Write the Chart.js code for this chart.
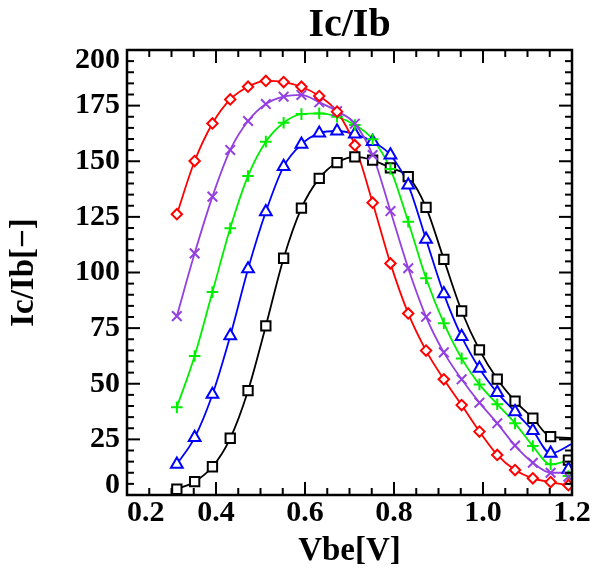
<!DOCTYPE html>
<html><head><meta charset="utf-8">
<script src="https://cdn.jsdelivr.net/npm/chart.js@4/dist/chart.umd.min.js"></script>
<style>html,body{margin:0;padding:0;background:#fff}canvas{display:block}</style>
</head><body>
<canvas id="c" width="596" height="571"></canvas>
<script>
// Vbe sample points (markers)
const vbe = [0.312,0.352,0.392,0.432,0.472,0.512,0.552,0.592,0.632,0.672,0.712,0.752,0.792,0.832,0.872,0.912,0.952,0.992,1.032,1.072,1.112,1.152,1.192];
// Ic/Ib for each curve
const redVals    = [126.2,150.1,167.0,177.8,183.5,186.1,185.6,183.5,179.3,172.3,157.2,131.4,104.1,81.6,64.9,52.0,40.4,28.5,18.0,11.2,7.5,5.8,4.4];
const purpleVals = [80.4,108.6,134.1,155.1,168.1,175.7,179.0,179.8,176.5,172.5,166.9,152.8,127.6,101.9,80.1,64.1,52.0,41.5,32.2,22.2,14.5,10.0,8.2];
const greenVals  = [39.4,62.5,91.2,119.9,143.4,158.8,167.3,171.2,171.5,170.0,166.3,159.9,146.5,122.8,97.4,77.2,61.4,49.7,40.8,32.2,22.0,13.8,8.5];
const blueVals   = [13.8,25.8,45.2,71.5,101.6,127.3,147.6,157.6,162.6,163.6,162.2,158.8,152.8,139.3,114.9,90.4,71.2,56.9,46.0,37.4,28.9,18.7,11.5];
const blackVals  = [2.6,6.0,12.7,25.5,46.9,76.0,106.4,128.9,142.3,149.4,152.0,150.5,147.0,143.1,129.3,105.9,82.7,65.2,52.1,42.2,34.5,26.2,15.7];
// value where each drawn curve meets the right edge (Vbe = 1.2)
const curveEndX = 1.2;
const curveEnd = {red: 4.0, purple: 10.0, green: 16.0, blue: 23.0, black: 25.6};
// axis ticks
const xTickValues = [0.2,0.4,0.6,0.8,1.0,1.2];
const yTickValues = [0,25,50,75,100,125,150,175,200];

const FONT = "'Liberation Serif','Times New Roman','DejaVu Serif',serif";
const series = [
  {key:'red',    vals: redVals,    color:'#ff0000', style:'rectRot',   r:5.2},
  {key:'purple', vals: purpleVals, color:'#9440e0', style:'crossRot',  r:6.8},
  {key:'green',  vals: greenVals,  color:'#00ee00', style:'cross',     r:5.8},
  {key:'blue',   vals: blueVals,   color:'#0000ff', style:'triangle',  r:6.8},
  {key:'black',  vals: blackVals,  color:'#000000', style:'rect',      r:6.6}
];

const markerSets = series.map(s => ({
  label: s.key + ' markers',
  data: vbe.map((x,i) => ({x, y: s.vals[i]})),
  showLine: false,
  pointStyle: s.style,
  pointRadius: s.r,
  pointBorderWidth: 2,
  pointBorderColor: s.color,
  pointBackgroundColor: '#ffffff',
  borderColor: s.color,
  backgroundColor: '#ffffff'
}));
const lineSets = series.map(s => ({
  label: s.key + ' curve',
  data: vbe.slice(0,22).map((x,i) => ({x, y: s.vals[i]})).concat([{x: curveEndX, y: curveEnd[s.key]}]),
  showLine: true,
  pointRadius: 0,
  borderColor: s.color,
  borderWidth: 1.8,
  cubicInterpolationMode: 'monotone',
  fill: false
}));

const framePlugin = {
  id: 'frame',
  afterDraw(chart) {
    const {ctx, chartArea: a, scales: {x, y}} = chart;
    ctx.save();
    ctx.strokeStyle = '#000';
    ctx.lineWidth = 2;
    const seg = (x1,y1,x2,y2) => { ctx.beginPath(); ctx.moveTo(x1,y1); ctx.lineTo(x2,y2); ctx.stroke(); };
    for (let k = 0; k <= 20; k++) {
      const px = x.getPixelForValue(x.min + k * 0.05);
      const len = (k % 4 === 0) ? 13 : 7;
      seg(px, a.bottom, px, a.bottom - len);
      seg(px, a.top, px, a.top + len);
    }
    for (let k = 0; k <= 40; k++) {
      const py = y.getPixelForValue(y.min + k * 5);
      const len = (k % 5 === 0) ? 13 : 7;
      seg(a.left, py, a.left + len, py);
      seg(a.right, py, a.right - len, py);
    }
    ctx.lineWidth = 2.5;
    ctx.strokeRect(a.left, a.top, a.right - a.left, a.bottom - a.top);
    ctx.restore();
  }
};

new Chart(document.getElementById('c'), {
  type: 'scatter',
  data: { datasets: markerSets.concat(lineSets) },
  plugins: [framePlugin],
  options: {
    responsive: false,
    animation: false,
    devicePixelRatio: 1,
    layout: { padding: {left: 0, right: 24, top: 0, bottom: 0} },
    plugins: {
      legend: { display: false },
      tooltip: { enabled: false },
      title: {
        display: true, text: 'Ic/Ib', color: '#000', fullSize: false,
        font: {family: FONT, size: 40, weight: 'bold', lineHeight: 1.2},
        padding: {top: 2, bottom: 0}
      }
    },
    scales: {
      x: {
        type: 'linear', min: 0.2, max: 1.2,
        afterBuildTicks: s => { s.ticks = xTickValues.map(v => ({value: v})); },
        ticks: {
          autoSkip: false, maxRotation: 0, padding: 0, color: '#000',
          font: {family: FONT, size: 30, weight: 'bold', lineHeight: 1.2},
          callback: v => (Math.abs(v - 0.2) < 1e-9 ? '     ' : '') + Number(v).toFixed(1)
        },
        grid: { display: false, drawTicks: false },
        border: { display: false },
        title: { display: true, text: 'Vbe[V]', color: '#000',
          font: {family: FONT, size: 33, weight: 'bold', lineHeight: 1.2}, padding: {top: 0, bottom: 0} },
        afterFit: s => { s.height = 76; }
      },
      y: {
        type: 'linear', min: 0, max: 200,
        afterBuildTicks: s => { s.ticks = yTickValues.map(v => ({value: v})); },
        ticks: {
          autoSkip: false, padding: 7, color: '#000',
          font: {family: FONT, size: 30, weight: 'bold', lineHeight: 0.65},
          callback: v => v === 200 ? ['', '200'] : (v === 0 ? ['0', ''] : String(v))
        },
        grid: { display: false, drawTicks: false },
        border: { display: false },
        title: { display: true, text: 'Ic/Ib[−]', color: '#000',
          font: {family: FONT, size: 33, weight: 'bold', lineHeight: 1.2}, padding: {top: 5, bottom: 0} },
        afterFit: s => { s.width = 127; }
      }
    }
  }
});
</script>
</body></html>
